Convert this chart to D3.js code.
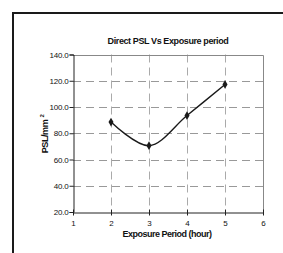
<!DOCTYPE html>
<html>
<head>
<meta charset="utf-8">
<script src="https://d3js.org/d3.v7.min.js"></script>
<style>
  body { margin: 0; background: #fff; }
  text { font-family: "Liberation Sans", Arial, sans-serif; fill: #111; }
</style>
</head>
<body>
<script>
  // data
  var hours = [2, 3, 4, 5];
  var psl = [88.5, 70.5, 93.5, 117.2];
  var xTicks = [1, 2, 3, 4, 5, 6];
  var yTicks = [20, 40, 60, 80, 100, 120, 140];

  var W = 283, H = 253;
  var svg = d3.select("body").append("svg")
      .attr("width", W).attr("height", H);

  // outer frame (top and left edges only are visible)
  svg.append("path")
    .attr("d", "M13,253 V13 H283")
    .attr("fill", "none")
    .attr("stroke", "#1a1a1a")
    .attr("stroke-width", 2);

  var x = d3.scaleLinear().domain([1, 6]).range([73, 263]);
  var y = d3.scaleLinear().domain([20, 140]).range([212, 54.5]);

  // gridlines
  svg.append("g").selectAll("line.h")
    .data(yTicks.slice(1, -1))
    .enter().append("line")
      .attr("x1", x(1)).attr("x2", x(6))
      .attr("y1", function (d) { return Math.round(y(d)) + 0.5; })
      .attr("y2", function (d) { return Math.round(y(d)) + 0.5; })
      .attr("stroke", "#999")
      .attr("stroke-dasharray", "8,5");

  svg.append("g").selectAll("line.v")
    .data(xTicks.slice(1, -1))
    .enter().append("line")
      .attr("x1", function (d) { return Math.round(x(d)) + 0.5; })
      .attr("x2", function (d) { return Math.round(x(d)) + 0.5; })
      .attr("y1", y(140)).attr("y2", y(20))
      .attr("stroke", "#aaa")
      .attr("stroke-dasharray", "8,5");

  // plot border top/right
  svg.append("path")
    .attr("d", "M" + x(1) + "," + (Math.round(y(140)) + 0.5) + " H" + (Math.round(x(6)) + 0.5) + " V" + y(20))
    .attr("fill", "none")
    .attr("stroke", "#888");

  // axes
  var yAxis = svg.append("g")
    .attr("transform", "translate(" + (Math.round(x(1)) + 0.5) + ",0)")
    .call(d3.axisLeft(y).tickValues(yTicks).tickSize(4).tickPadding(1)
      .tickFormat(d3.format(".1f")));
  yAxis.select(".domain").attr("stroke", "#222");
  yAxis.selectAll(".tick line").attr("stroke", "#222");
  yAxis.selectAll("text").attr("font-size", "8px").attr("fill", "#111")
    .attr("letter-spacing", "-0.2px")
    .attr("font-family", "Liberation Sans, Arial, sans-serif");

  var xAxis = svg.append("g")
    .attr("transform", "translate(0," + (Math.round(y(20)) + 0.5) + ")")
    .call(d3.axisBottom(x).tickValues(xTicks).tickSizeInner(3).tickSizeOuter(0).tickPadding(5)
      .tickFormat(d3.format("d")));
  xAxis.select(".domain").attr("stroke", "#222");
  xAxis.selectAll(".tick line").attr("stroke", "#222").attr("y1", -3);
  xAxis.selectAll("text").attr("font-size", "8px").attr("fill", "#111")
    .attr("font-family", "Liberation Sans, Arial, sans-serif");

  // series: smoothed line with diamond markers
  var pts = hours.map(function (h, i) { return [x(h), y(psl[i])]; });
  svg.append("path")
    .attr("d", d3.line().curve(d3.curveCatmullRom.alpha(0.5))(pts))
    .attr("fill", "none")
    .attr("stroke", "#1a1a1a")
    .attr("stroke-width", 1.4);

  svg.append("g").selectAll("path.m")
    .data(pts)
    .enter().append("path")
      .attr("transform", function (d) { return "translate(" + d[0] + "," + d[1] + ")"; })
      .attr("d", d3.symbol().type(d3.symbolDiamond).size(22))
      .attr("fill", "#1a1a1a");

  // titles
  svg.append("text")
    .attr("x", 168).attr("y", 44)
    .attr("text-anchor", "middle")
    .attr("font-size", "9px")
    .attr("font-weight", "bold")
    .attr("letter-spacing", "-0.4px")
    .text("Direct PSL Vs Exposure period");

  svg.append("text")
    .attr("x", 167).attr("y", 237)
    .attr("text-anchor", "middle")
    .attr("font-size", "9px")
    .attr("font-weight", "bold")
    .attr("letter-spacing", "-0.5px")
    .text("Exposure Period (hour)");

  var yl = svg.append("text")
    .attr("transform", "translate(48,134) rotate(-90)")
    .attr("text-anchor", "middle")
    .attr("font-size", "9px")
    .attr("font-weight", "bold")
    .attr("letter-spacing", "-0.4px");
  yl.append("tspan").text("PSL/mm ");
  yl.append("tspan").attr("font-size", "6px").attr("dy", -4).text("2");
</script>
</body>
</html>
